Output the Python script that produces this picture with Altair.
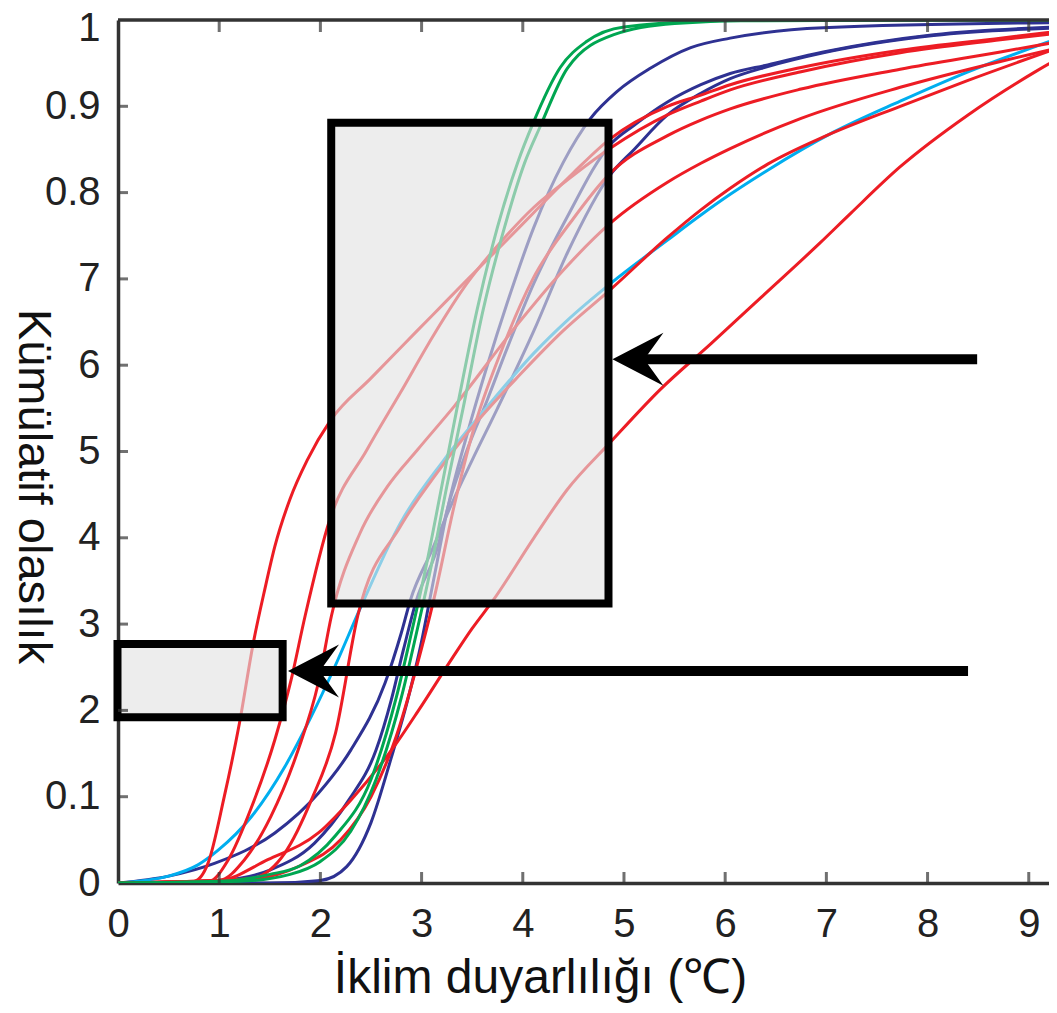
import altair as alt
import pandas as pd

# ---------------- data ----------------
x_ticks = [0, 1, 2, 3, 4, 5, 6, 7, 8, 9]
y_ticks = [0, 0.1, 0.2, 0.3, 0.4, 0.5, 0.6, 0.7, 0.8, 0.9, 1.0]
y_tick_labels = ["0", "0.1", "2", "3", "4", "5", "6", "7", "0.8", "0.9", "1"]

G1_x = [0, 1.0, 1.5, 1.8, 2.15, 2.5, 2.75, 2.9, 3.05, 3.2, 3.35, 3.55, 3.75, 3.95, 4.1, 4.37, 4.63, 5.0, 6.0, 9.3]
G1_y = [0, 0.002, 0.01, 0.02, 0.055, 0.12, 0.215, 0.29, 0.37, 0.46, 0.55, 0.665, 0.76, 0.835, 0.88, 0.945, 0.975, 0.992, 0.999, 1.0]
G2_x = [0, 1.2, 1.7, 2.0, 2.3, 2.55, 2.8, 2.95, 3.1, 3.25, 3.41, 3.61, 3.82, 4.02, 4.17, 4.44, 4.9, 5.5, 6.5, 9.3]
G2_y = [0, 0.002, 0.01, 0.025, 0.06, 0.12, 0.215, 0.29, 0.37, 0.46, 0.55, 0.665, 0.76, 0.835, 0.876, 0.944, 0.983, 0.996, 1.0, 1.0]

B1_x = [0, 0.5, 0.96, 1.55, 1.98, 2.3, 2.64, 2.8, 2.89, 3.1, 3.3, 3.5, 3.75, 4.11, 4.44, 4.86, 5.1, 5.43, 5.76, 6.05, 6.42, 6.97, 8.06, 9.3]
B1_y = [0, 0.008, 0.023, 0.058, 0.104, 0.154, 0.232, 0.29, 0.328, 0.385, 0.44, 0.49, 0.55, 0.64, 0.73, 0.82, 0.85, 0.89, 0.915, 0.932, 0.946, 0.962, 0.982, 0.991]
B2_x = [0, 1.0, 1.5, 1.94, 2.28, 2.55, 2.7, 2.82, 2.95, 3.15, 3.28, 3.45, 3.65, 3.84, 4.11, 4.44, 4.86, 5.1, 5.43, 5.76, 6.05, 6.42, 6.97, 8.06, 9.3]
B2_y = [0, 0.003, 0.015, 0.046, 0.096, 0.154, 0.212, 0.27, 0.328, 0.386, 0.444, 0.502, 0.56, 0.618, 0.695, 0.772, 0.855, 0.878, 0.905, 0.925, 0.938, 0.948, 0.963, 0.983, 0.992]
B3_x = [0, 1.5, 2.0, 2.26, 2.5, 2.7, 2.88, 3.0, 3.08, 3.15, 3.25, 3.45, 3.65, 3.84, 4.11, 4.4, 4.67, 4.93, 5.26, 5.66, 6.05, 6.97, 9.3]
B3_y = [0, 0.0, 0.003, 0.019, 0.07, 0.145, 0.22, 0.28, 0.328, 0.37, 0.43, 0.52, 0.6, 0.67, 0.76, 0.835, 0.886, 0.917, 0.944, 0.968, 0.979, 0.991, 0.997]

LB_x = [0, 0.5, 0.79, 0.99, 1.32, 1.65, 1.91, 2.14, 2.4, 2.79, 3.22, 3.65, 4.11, 4.44, 4.86, 5.43, 5.76, 6.05, 6.42, 7.07, 7.73, 8.4, 9.3]
LB_y = [0, 0.008, 0.021, 0.038, 0.077, 0.135, 0.193, 0.25, 0.32, 0.417, 0.49, 0.552, 0.614, 0.652, 0.694, 0.745, 0.774, 0.798, 0.826, 0.87, 0.906, 0.94, 0.979]

R1_x = [0, 0.75, 0.89, 1.05, 1.2, 1.34, 1.45, 1.55, 1.7, 1.87, 2.1, 2.5, 2.79, 3.1, 3.45, 3.8, 4.11, 4.5, 4.86, 5.43, 5.76, 6.05, 6.75, 7.73, 8.72, 9.3]
R1_y = [0, 0.002, 0.023, 0.1, 0.185, 0.28, 0.34, 0.39, 0.445, 0.49, 0.536, 0.585, 0.62, 0.657, 0.699, 0.74, 0.777, 0.823, 0.862, 0.9, 0.913, 0.925, 0.945, 0.965, 0.979, 0.987]
R2_x = [0, 0.9, 1.09, 1.32, 1.55, 1.71, 1.85, 2.09, 2.46, 2.79, 3.12, 3.45, 3.8, 4.11, 4.5, 4.86, 5.43, 5.76, 6.05, 6.75, 7.73, 8.72, 9.3]
R2_y = [0, 0.002, 0.027, 0.088, 0.166, 0.235, 0.31, 0.42, 0.502, 0.568, 0.635, 0.695, 0.745, 0.783, 0.82, 0.851, 0.89, 0.906, 0.919, 0.94, 0.962, 0.977, 0.985]
R3_x = [0, 1.0, 1.25, 1.51, 1.78, 1.98, 2.11, 2.39, 2.66, 2.96, 3.32, 3.98, 4.4, 4.86, 5.43, 5.76, 6.05, 6.75, 7.73, 8.72, 9.3]
R3_y = [0, 0.003, 0.027, 0.077, 0.154, 0.232, 0.31, 0.405, 0.459, 0.502, 0.552, 0.652, 0.71, 0.764, 0.812, 0.834, 0.851, 0.886, 0.922, 0.952, 0.968]
R4_x = [0, 1.3, 1.65, 1.91, 2.15, 2.37, 2.79, 3.12, 3.45, 3.98, 4.4, 4.86, 5.43, 5.76, 6.05, 6.42, 7.0, 7.73, 8.4, 9.3]
R4_y = [0, 0.005, 0.035, 0.096, 0.174, 0.31, 0.413, 0.47, 0.521, 0.59, 0.64, 0.687, 0.748, 0.78, 0.805, 0.833, 0.866, 0.9, 0.93, 0.968]
R5_x = [0, 1.3, 1.8, 2.2, 2.5, 2.75, 2.95, 3.12, 3.32, 3.5, 3.8, 4.1, 4.5, 4.86, 5.43, 5.76, 6.05, 6.75, 7.73, 8.72, 9.3]
R5_y = [0, 0.004, 0.02, 0.05, 0.1, 0.17, 0.25, 0.328, 0.436, 0.52, 0.62, 0.7, 0.77, 0.822, 0.866, 0.884, 0.897, 0.92, 0.943, 0.963, 0.975]
R6_x = [0, 1.0, 1.48, 1.98, 2.3, 2.74, 2.97, 3.3, 3.5, 3.71, 4.11, 4.44, 4.86, 5.36, 5.86, 6.35, 6.94, 7.24, 7.73, 8.4, 9.05, 9.3]
R6_y = [0, 0.003, 0.027, 0.058, 0.096, 0.16, 0.2, 0.26, 0.295, 0.328, 0.4, 0.456, 0.51, 0.572, 0.625, 0.678, 0.742, 0.776, 0.83, 0.89, 0.939, 0.956]

curve_names = ["B1", "B2", "B3", "LB", "R1", "R2", "R3", "R4", "R5", "R6", "G1", "G2"]
curve_colors = ["#2e3192", "#2e3192", "#2e3192", "#00aeef", "#ed1c24", "#ed1c24", "#ed1c24",
                "#ed1c24", "#ed1c24", "#ed1c24", "#00a651", "#00a651"]
curve_xs = [B1_x, B2_x, B3_x, LB_x, R1_x, R2_x, R3_x, R4_x, R5_x, R6_x, G1_x, G2_x]
curve_ys = [B1_y, B2_y, B3_y, LB_y, R1_y, R2_y, R3_y, R4_y, R5_y, R6_y, G1_y, G2_y]

# highlighted boxes (data coordinates)
box_x1 = [2.107, -0.005]
box_x2 = [4.847, 1.627]
box_y1 = [0.324, 0.192]
box_y2 = [0.881, 0.277]

# arrows (tip and tail, data coordinates)
arrow_tip_x = [4.886, 1.68]
arrow_tail_x = [8.49, 8.40]
arrow_y = [0.607, 0.2457]

# ---------------- build ----------------
rows = []
for name, xs, ys in zip(curve_names, curve_xs, curve_ys):
    for i, (xv, yv) in enumerate(zip(xs, ys)):
        rows.append({"curve": name, "x": xv, "y": yv, "ord": i})
df = pd.DataFrame(rows)

XMAX = 9.2
xs_ = alt.Scale(domain=[0, XMAX], nice=False, zero=False)
ys_ = alt.Scale(domain=[0, 1], nice=False, zero=False)

FONT = "Liberation Sans, Arial, Helvetica, sans-serif"
label_expr = "[" + ",".join("'%s'" % s for s in y_tick_labels) + "][round(datum.value*10)]"

x_axis = alt.Axis(values=x_ticks, format="d", labelFont=FONT, labelFontSize=40,
                  labelColor="#222", labelPadding=21, ticks=False, tickSize=0,
                  domainColor="#333", domainWidth=3.5, grid=False, labelFlush=False,
                  labelOverlap=False, title="İklim duyarlılığı (℃)", titleFont=FONT,
                  titleFontSize=48, titleFontWeight="normal", titleColor="#111",
                  titleX=422, titleY=109, titleAlign="center", titleBaseline="alphabetic")
y_axis = alt.Axis(values=y_ticks, labelExpr=label_expr, labelFont=FONT, labelFontSize=40,
                  labelColor="#222", labelPadding=18, ticks=False, tickSize=0,
                  labelOffset={"condition": {"test": "datum.value >= 1", "value": 8}, "value": 0},
                  domainColor="#333", domainWidth=3.5, grid=False, labelFlush=False,
                  labelOverlap=False, title="Kümülatif olasılık", titleFont=FONT,
                  titleFontSize=47, titleFontWeight="normal", titleColor="#111",
                  titleAngle=90, titleX=-100, titleY=466, titleAlign="center",
                  titleBaseline="alphabetic")

X = alt.X("x:Q", scale=xs_, axis=x_axis)
Y = alt.Y("y:Q", scale=ys_, axis=y_axis)

lines = alt.Chart(df).mark_line(strokeWidth=3, interpolate="monotone", clip=True).encode(
    x=X, y=Y,
    color=alt.Color("curve:N", scale=alt.Scale(domain=curve_names, range=curve_colors), legend=None),
    detail="curve:N",
    order="ord:Q",
)

top_df = pd.DataFrame({"x": [0], "x2": [XMAX], "y": [1.0]})
top_line = alt.Chart(top_df).mark_rule(color="#333", strokeWidth=3.5).encode(x=X, x2="x2:Q", y=Y)

xt_df = pd.DataFrame({"x": x_ticks[1:], "y": [0.0] * 9, "yt": [1.0] * 9})
bottom_ticks = alt.Chart(xt_df).mark_tick(orient="vertical", size=11, thickness=3,
                                          color="#333", yOffset=-5.5).encode(x=X, y=Y)
top_ticks = alt.Chart(xt_df).mark_tick(orient="vertical", size=12, thickness=3,
                                       color="#333", yOffset=6).encode(
    x=X, y=alt.Y("yt:Q", scale=ys_, axis=y_axis))
yt_df = pd.DataFrame({"y": y_ticks[1:-1], "x": [0.0] * 9})
left_ticks = alt.Chart(yt_df).mark_tick(orient="horizontal", size=10, thickness=3,
                                        color="#333", xOffset=5).encode(x=X, y=Y)

box_df = pd.DataFrame({"x": box_x1, "x2": box_x2, "y": box_y1, "y2": box_y2})
boxes = alt.Chart(box_df).mark_rect(fill="#e2e2e2", fillOpacity=0.62, stroke="black",
                                    strokeWidth=8, strokeOpacity=1).encode(
    x=X, x2="x2:Q", y=Y, y2="y2:Q")

arr_df = pd.DataFrame({"x": arrow_tip_x, "tail": arrow_tail_x, "y": arrow_y})
arr_df["start"] = arr_df["x"] + 0.3
shafts = alt.Chart(arr_df).mark_rule(color="black", strokeWidth=10, strokeCap="butt").encode(
    x=alt.X("start:Q", scale=xs_, axis=x_axis), x2="tail:Q", y=Y)
heads = alt.Chart(arr_df).mark_point(shape="M0,0 L2,-1.04 L1.25,0 L2,1.04 Z", size=2600,
                                     filled=True, color="black", opacity=1,
                                     strokeWidth=0).encode(x=X, y=Y)

chart = alt.layer(lines, boxes, top_line, bottom_ticks, top_ticks, left_ticks, shafts, heads).properties(
    width=931, height=863,
    autosize=alt.AutoSizeParams(type="none"),
    padding={"left": 110, "top": 12, "right": 0, "bottom": 122},
    background="white",
).configure_view(stroke=None)

chart.save("out.html", embed_options={"renderer": "svg", "actions": False})
